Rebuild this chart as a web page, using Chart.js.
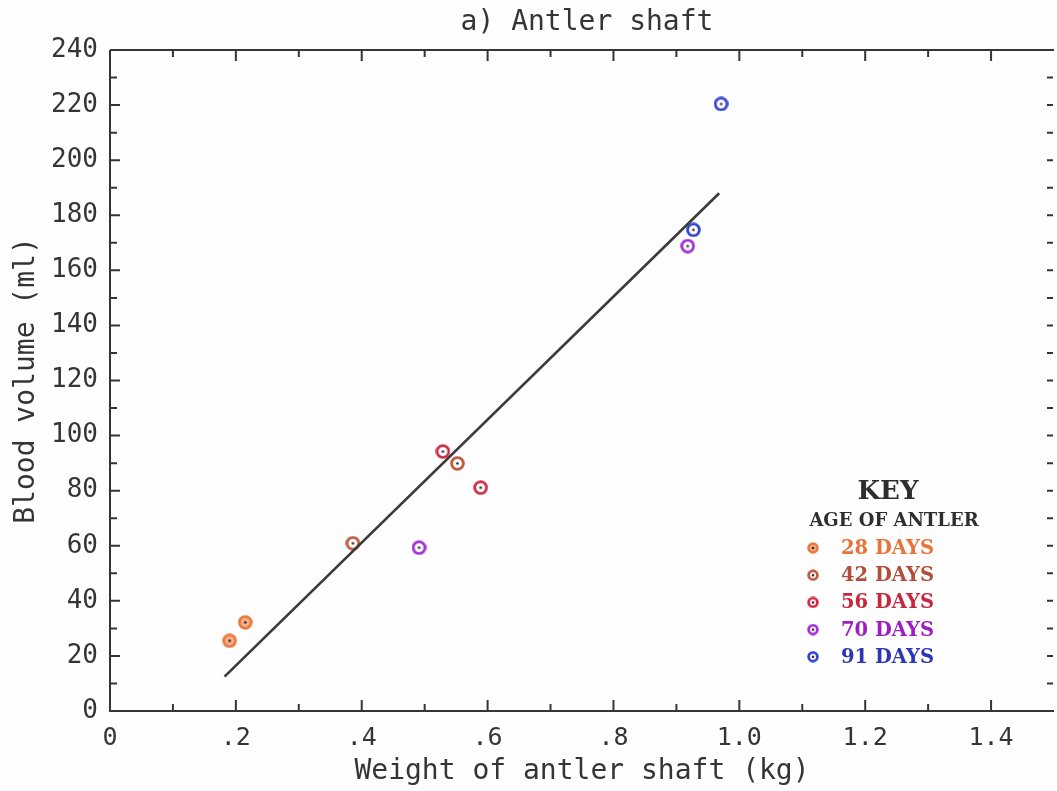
<!DOCTYPE html>
<html>
<head>
<meta charset="utf-8">
<script src="https://cdn.jsdelivr.net/npm/chart.js@4.4.1/dist/chart.umd.min.js"></script>
<style>
    html, body { margin: 0; padding: 0; background: #fefefe; overflow: hidden; }
    #wrap { width: 1062px; height: 791px; }
</style>
</head>
<body>
<div id="wrap"><canvas id="myChart"></canvas></div>
<script>
// blood volume against antler shaft weight, grouped by age of antler
const ageLabels = ['28 DAYS', '42 DAYS', '56 DAYS', '70 DAYS', '91 DAYS']
const ageColors = ['#e87a42', '#bd5a40', '#cf2c46', '#a12ed6', '#3544cc']
const textColors = ['#e8733a', '#b14e3c', '#c7263e', '#9c1fc6', '#2c36b4']

const weight28 = [0.190, 0.215]
const blood28 = [25.5, 32.2]
const weight42 = [0.386, 0.552]
const blood42 = [60.9, 89.9]
const weight56 = [0.529, 0.589]
const blood56 = [94.2, 81.1]
const weight70 = [0.491, 0.918]
const blood70 = [59.3, 168.8]
const weight91 = [0.927, 0.971]
const blood91 = [174.7, 220.4]

// fitted regression line end points
const fitWeight = [0.182, 0.968]
const fitBlood = [12.5, 188.0]

const xTickValues = [0, 0.2, 0.4, 0.6, 0.8, 1.0, 1.2, 1.4]
const xTickLabels = ['0', '.2', '.4', '.6', '.8', '1.0', '1.2', '1.4']
const yTickValues = [0, 20, 40, 60, 80, 100, 120, 140, 160, 180, 200, 220, 240]

const ink = '#353535'
const mono = "'DejaVu Sans Mono', monospace"

function toPoints(xs, ys) {
    return xs.map((x, i) => ({ x: x, y: ys[i] }))
}

// ring marker with a small dot in the middle
function makeMarker(color, size, filled) {
    const c = document.createElement('canvas')
    c.width = size
    c.height = size
    const g = c.getContext('2d')
    const r = size / 2
    g.beginPath()
    g.arc(r, r, r - 1.6, 0, Math.PI * 2)
    g.fillStyle = filled ? 'rgba(240,170,120,0.9)' : '#fff'
    g.fill()
    g.lineWidth = 2.8
    g.strokeStyle = color
    g.stroke()
    g.beginPath()
    g.arc(r, r, 1.3, 0, Math.PI * 2)
    g.fillStyle = '#3a2020'
    g.fill()
    return c
}

const groups = [
    [weight28, blood28],
    [weight42, blood42],
    [weight56, blood56],
    [weight70, blood70],
    [weight91, blood91]
]

const datasets = groups.map((g, i) => ({
    type: 'scatter',
    label: ageLabels[i],
    data: toPoints(g[0], g[1]),
    pointStyle: makeMarker(ageColors[i], 15, i === 0),
    pointRadius: 7,
    legendMarker: makeMarker(ageColors[i], 12, i === 0),
    textColor: textColors[i]
}))

datasets.unshift({
    type: 'line',
    label: 'fit',
    data: toPoints(fitWeight, fitBlood),
    borderColor: '#3a3a3a',
    borderWidth: 2.6,
    pointRadius: 0,
    fill: false
})

// frame, inward tick marks, title and key
const decorations = {
    id: 'decorations',
    afterDraw(chart) {
        const { ctx, chartArea: a, scales: { x, y } } = chart
        ctx.save()
        ctx.strokeStyle = ink
        ctx.lineWidth = 2
        ctx.lineCap = 'butt'

        ctx.beginPath()
        ctx.moveTo(a.left, a.top)
        ctx.lineTo(a.right, a.top)
        ctx.moveTo(a.left, a.top)
        ctx.lineTo(a.left, a.bottom)
        ctx.lineTo(a.right, a.bottom)
        ctx.stroke()

        for (let i = 1; i <= 14; i++) {
            const px = x.getPixelForValue(i / 10)
            const len = i % 2 === 0 ? 11 : 7
            ctx.beginPath()
            ctx.moveTo(px, a.bottom)
            ctx.lineTo(px, a.bottom - len)
            ctx.moveTo(px, a.top)
            ctx.lineTo(px, a.top + len)
            ctx.stroke()
        }
        for (let v = 10; v < 240; v += 10) {
            const py = y.getPixelForValue(v)
            const len = v % 20 === 0 ? 10 : 7
            ctx.beginPath()
            ctx.moveTo(a.left, py)
            ctx.lineTo(a.left + len, py)
            ctx.moveTo(a.right - 1, py)
            ctx.lineTo(a.right - 7, py)
            ctx.stroke()
        }

        ctx.fillStyle = ink
        ctx.font = '28px ' + mono
        ctx.textAlign = 'center'
        ctx.textBaseline = 'middle'
        ctx.fillText('a) Antler shaft', 587, 23)

        // key
        ctx.fillStyle = '#2e2e2e'
        ctx.font = "bold 26px 'DejaVu Serif', serif"
        ctx.fillText('KEY', 888, 492)
        ctx.font = "bold 18px 'DejaVu Serif', serif"
        ctx.fillText('AGE OF ANTLER', 894, 521)
        ctx.textAlign = 'left'
        ctx.font = "bold 19.5px 'DejaVu Serif', serif"
        const rows = chart.data.datasets.filter(d => d.type === 'scatter')
        rows.forEach((d, i) => {
            const ry = 548 + i * 27.2
            ctx.drawImage(d.legendMarker, 807, ry - 6)
            ctx.fillStyle = d.textColor
            ctx.fillText(d.label, 841, ry + 1)
        })
        ctx.restore()
    }
}

new Chart(document.getElementById('myChart'), {
    data: { datasets: datasets },
    options: {
        responsive: true,
        maintainAspectRatio: false,
        animation: false,
        layout: { padding: { top: 50, right: 0, left: 0, bottom: 0 } },
        plugins: {
            legend: { display: false },
            tooltip: { enabled: false }
        },
        scales: {
            x: {
                type: 'linear',
                min: 0,
                max: 1.5,
                border: { display: false },
                grid: { display: false, drawTicks: false },
                afterBuildTicks: scale => {
                    scale.ticks = xTickValues.map(v => ({ value: v }))
                },
                afterFit: scale => { scale.height = 80 },
                ticks: {
                    padding: 12,
                    color: ink,
                    font: { family: mono, size: 25 },
                    callback: v => xTickLabels[xTickValues.findIndex(t => Math.abs(t - v) < 1e-6)]
                },
                title: {
                    display: true,
                    text: 'Weight of antler shaft (kg)',
                    color: ink,
                    font: { family: mono, size: 28 },
                    padding: { top: 0, bottom: 2 }
                }
            },
            y: {
                type: 'linear',
                min: 0,
                max: 240,
                border: { display: false },
                grid: { display: false, drawTicks: false },
                afterBuildTicks: scale => {
                    scale.ticks = yTickValues.map(v => ({ value: v }))
                },
                afterFit: scale => { scale.width = 110 },
                ticks: {
                    padding: 12,
                    color: ink,
                    font: { family: mono, size: 26 }
                },
                title: {
                    display: true,
                    text: 'Blood volume (ml)',
                    color: ink,
                    font: { family: mono, size: 28 },
                    padding: { top: 10, bottom: 0 }
                }
            }
        }
    },
    plugins: [decorations]
})
</script>
</body>
</html>
